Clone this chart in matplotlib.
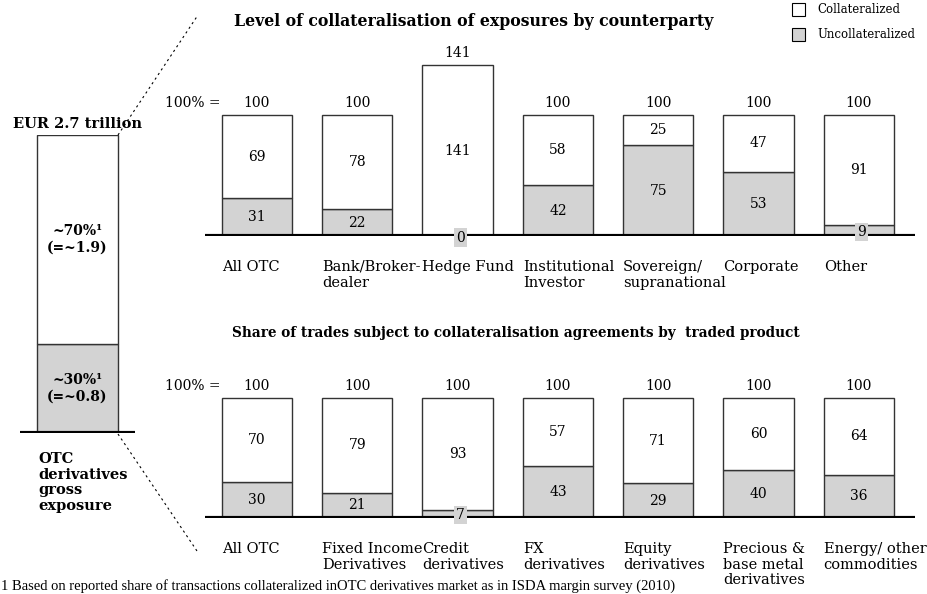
import matplotlib
matplotlib.use("Agg")
import matplotlib.pyplot as plt
from matplotlib.patches import Rectangle

W, H = 928, 594
FONT = "DejaVu Serif"
GRAY = "#d3d3d3"
EDGE = "#333333"

# ---- data ----
top_title = "Level of collateralisation of exposures by counterparty"
top_cats = ["All OTC", "Bank/Broker-\ndealer", "Hedge Fund", "Institutional\nInvestor",
            "Sovereign/\nsupranational", "Corporate", "Other"]
top_uncoll = [31, 22, 0, 42, 75, 53, 9]
top_coll = [69, 78, 141, 58, 25, 47, 91]
top_total = [100, 100, 141, 100, 100, 100, 100]

bot_title = "Share of trades subject to collateralisation agreements by  traded product"
bot_cats = ["All OTC", "Fixed Income\nDerivatives", "Credit\nderivatives", "FX\nderivatives",
            "Equity\nderivatives", "Precious &\nbase metal\nderivatives", "Energy/ other\ncommodities"]
bot_uncoll = [30, 21, 7, 43, 29, 40, 36]
bot_coll = [70, 79, 93, 57, 71, 60, 64]
bot_total = [100, 100, 100, 100, 100, 100, 100]

left_uncoll = [30]
left_coll = [70]
left_title = "EUR 2.7 trillion"
left_coll_label = "~70%\u00b9\n(=~1.9)"
left_uncoll_label = "~30%\u00b9\n(=~0.8)"
left_cat = "OTC\nderivatives\ngross\nexposure"
footnote = "1 Based on reported share of transactions collateralized inOTC derivatives market as in ISDA margin survey (2010)"
legend_labels = ["Collateralized", "Uncollateralized"]

fig = plt.figure(figsize=(W / 100, H / 100), dpi=100)


def px_axes(x0, x1, ybase, ytop):
    return fig.add_axes([x0 / W, (H - ybase) / H, (x1 - x0) / W, (ybase - ytop) / H])


def bar_panel(ybase, px_per_unit, cats, unc, col, tot, small_thresh=10):
    x0, x1 = 205, 915
    spacing = 100.3
    c0 = 257
    ymax = 150
    ax = px_axes(x0, x1, ybase, ybase - ymax * px_per_unit)
    ax.set_xlim((x0 - c0) / spacing, (x1 - c0) / spacing)
    ax.set_ylim(0, ymax)
    ax.axis("off")
    xs = list(range(len(cats)))
    ax.bar(xs, unc, width=0.7, color=GRAY, edgecolor=EDGE, linewidth=1, zorder=2)
    ax.bar(xs, col, bottom=unc, width=0.7, color="white", edgecolor=EDGE, linewidth=1, zorder=2)
    ax.axhline(0, color="black", lw=3, zorder=3)
    u = 1 / px_per_unit
    for x, a, b, t in zip(xs, unc, col, tot):
        ax.text(x, a + b / 2, f"{b}", ha="center", va="center", fontsize=10, family=FONT, zorder=4)
        if a >= small_thresh:
            ax.text(x, a / 2, f"{a}", ha="center", va="center", fontsize=10, family=FONT, zorder=4)
        else:
            ax.text(x + 0.03, a / 2 - 1.5 * u, f"{a}", ha="center", va="center", fontsize=10, family=FONT,
                    zorder=5, bbox=dict(boxstyle="square,pad=0.15", fc=GRAY, ec="none"))
        ax.text(x, t + 12 * u, f"{t}", ha="center", va="center", fontsize=10, family=FONT)
        ax.text(x - 0.35, -24 * u, cats[x], ha="left", va="top", fontsize=10.5, family=FONT,
                linespacing=1.15)
    ax.text((221 - c0) / spacing, 100 + 12 * u, "100% =", ha="right", va="center", fontsize=10, family=FONT)
    return ax


bar_panel(236, 1.21, top_cats, top_uncoll, top_coll, top_total)
bar_panel(518, 1.20, bot_cats, bot_uncoll, bot_coll, bot_total)

# left bar
axl = px_axes(20, 135, 433, 135)
axl.set_xlim(0, 1)
axl.set_ylim(0, 100)
axl.axis("off")
bw = 81 / 115
axl.bar([0.5], left_uncoll, width=bw, color=GRAY, edgecolor=EDGE, linewidth=1, zorder=2)
axl.bar([0.5], left_coll, bottom=left_uncoll, width=bw, color="white", edgecolor=EDGE, linewidth=1, zorder=2)
axl.axhline(0, color="black", lw=3, zorder=3)
axl.text(0.5, left_uncoll[0] + left_coll[0] / 2, left_coll_label, ha="center", va="center",
         fontsize=10, family=FONT, weight="bold", linespacing=1.3)
axl.text(0.5, left_uncoll[0] / 2, left_uncoll_label, ha="center", va="center",
         fontsize=10, family=FONT, weight="bold", linespacing=1.3)

# overlay for annotations
ov = fig.add_axes([0, 0, 1, 1])
ov.set_xlim(0, W)
ov.set_ylim(H, 0)
ov.axis("off")
ov.patch.set_alpha(0)

ov.plot([118, 198], [135, 15], ls=(0, (2, 3)), color="black", lw=0.8)
ov.plot([118, 197], [434, 551], ls=(0, (2, 3)), color="black", lw=0.8)

ov.text(78, 124, left_title, ha="center", va="center", fontsize=10.5, family=FONT, weight="bold")
ov.text(38, 452, left_cat, ha="left", va="top", fontsize=10.5, family=FONT, weight="bold",
        linespacing=1.15)

ov.text(474, 22, top_title, ha="center", va="center", fontsize=11.3, family=FONT, weight="bold")
ov.text(516, 333, bot_title, ha="center", va="center", fontsize=9.8, family=FONT, weight="bold")

ov.add_patch(Rectangle((792, 3), 13, 13, fc="white", ec="black", lw=0.8))
ov.add_patch(Rectangle((792, 28), 13, 13, fc=GRAY, ec="black", lw=0.8))
ov.text(817, 9.5, legend_labels[0], ha="left", va="center", fontsize=8.5, family=FONT)
ov.text(817, 34.5, legend_labels[1], ha="left", va="center", fontsize=8.5, family=FONT)

ov.text(1, 586, footnote, ha="left", va="center", fontsize=10.5, family="Liberation Serif")

fig.savefig("out.png", dpi=100)
